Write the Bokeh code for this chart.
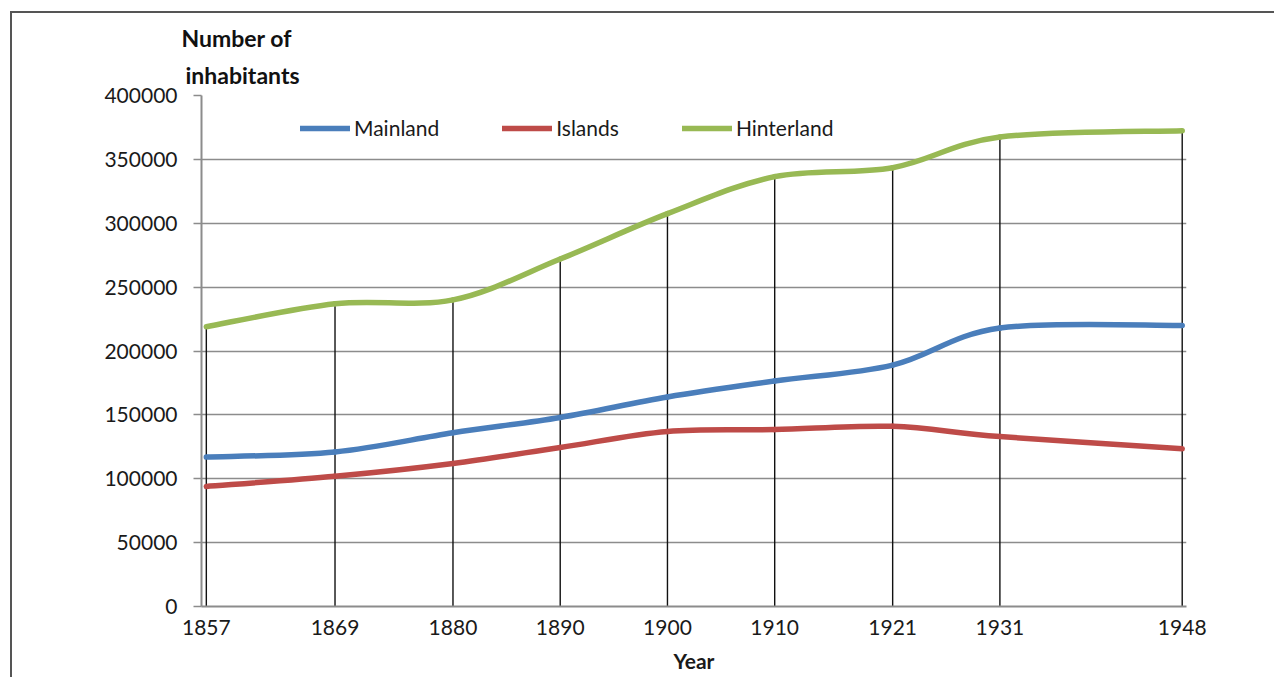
from bokeh.plotting import figure
from bokeh.models import ColumnDataSource, FixedTicker, BasicTickFormatter, Title, Legend
from bokeh.embed import file_html
from bokeh.resources import INLINE

years = [1857, 1869, 1880, 1890, 1900, 1910, 1921, 1931, 1948]
mainland = [117000, 121000, 136000, 148000, 164000, 176500, 189000, 218000, 220000]
islands = [94000, 102000, 112000, 124500, 137000, 138500, 141000, 133000, 123500]
hinterland = [219000, 237000, 240000, 272000, 307500, 336500, 343500, 367500, 372500]
series_names = ["Mainland", "Islands", "Hinterland"]
series_colors = ["#4A7EBB", "#BE4B48", "#98B954"]
y_ticks = [0, 50000, 100000, 150000, 200000, 250000, 300000, 350000, 400000]

FONT = "Lato"
FS = "21px"

p = figure(width=1264, height=666, x_range=(1856.55, 1948.4), y_range=(0, 400000),
           output_backend="svg", toolbar_location=None,
           min_border_left=189, min_border_right=90, min_border_top=82, min_border_bottom=73,
           margin=(11, 0, 0, 10))
p.styles = {"border-left": "2px solid #555555", "border-top": "2px solid #555555"}
p.outline_line_color = None
p.background_fill_color = "white"
p.border_fill_color = "white"

# grid
p.xgrid.grid_line_color = None
p.ygrid.ticker = FixedTicker(ticks=y_ticks)
p.ygrid.grid_line_color = "#8c8c8c"
p.ygrid.grid_line_width = 1.6

# y axis
p.yaxis.ticker = FixedTicker(ticks=y_ticks)
p.yaxis.formatter = BasicTickFormatter(use_scientific=False)
p.yaxis.axis_line_color = "#8c8c8c"
p.yaxis.axis_line_width = 2
p.yaxis.major_tick_line_color = "#8c8c8c"
p.yaxis.major_tick_line_width = 1.6
p.yaxis.major_tick_out = 8
p.yaxis.major_tick_in = 0
p.yaxis.minor_tick_line_color = None
p.yaxis.major_label_standoff = 16
p.yaxis.major_label_text_font = FONT
p.yaxis.major_label_text_font_size = FS
p.yaxis.major_label_text_color = "#1a1a1a"

# x axis
p.xaxis.ticker = FixedTicker(ticks=years)
p.xaxis.axis_line_color = "#8c8c8c"
p.xaxis.axis_line_width = 2
p.xaxis.major_tick_line_color = None
p.xaxis.major_tick_out = 0
p.xaxis.major_tick_in = 0
p.xaxis.minor_tick_line_color = None
p.xaxis.major_label_standoff = 13
p.xaxis.major_label_text_font = FONT
p.xaxis.major_label_text_font_size = FS
p.xaxis.major_label_text_color = "#1a1a1a"
p.xaxis.axis_label = "Year"
p.xaxis.axis_label_text_font = FONT
p.xaxis.axis_label_text_font_style = "bold"
p.xaxis.axis_label_text_font_size = FS
p.xaxis.axis_label_text_color = "#1a1a1a"
p.xaxis.axis_label_standoff = 10

# drop lines from the top series to the axis
p.segment(x0=years, y0=[0] * len(years), x1=years, y1=hinterland,
          line_color="#111111", line_width=1.4)


def smooth_source(xs, ys):
    n = len(xs)
    d = dict(x0=[], y0=[], x1=[], y1=[], cx0=[], cy0=[], cx1=[], cy1=[])
    for i in range(n - 1):
        xp, yp = (xs[i - 1], ys[i - 1]) if i > 0 else (xs[i], ys[i])
        xn, yn = (xs[i + 2], ys[i + 2]) if i + 2 < n else (xs[i + 1], ys[i + 1])
        d["x0"].append(xs[i]); d["y0"].append(ys[i])
        d["x1"].append(xs[i + 1]); d["y1"].append(ys[i + 1])
        d["cx0"].append(xs[i] + (xs[i + 1] - xp) / 6.0)
        d["cy0"].append(ys[i] + (ys[i + 1] - yp) / 6.0)
        d["cx1"].append(xs[i + 1] - (xn - xs[i]) / 6.0)
        d["cy1"].append(ys[i + 1] - (yn - ys[i]) / 6.0)
    return ColumnDataSource(d)


legend_items = []
for name, vals, col in zip(series_names, [mainland, islands, hinterland], series_colors):
    r = p.bezier(x0="x0", y0="y0", x1="x1", y1="y1", cx0="cx0", cy0="cy0", cx1="cx1", cy1="cy1",
                 source=smooth_source(years, vals), line_color=col, line_width=5.5, line_cap="round")
    legend_items.append((name, [r]))

legend = Legend(items=legend_items, orientation="horizontal", location=(99, 466))
legend.border_line_color = None
legend.background_fill_alpha = 0
legend.padding = 0
legend.margin = 0
legend.spacing = 63
legend.glyph_width = 50
legend.glyph_height = 22
legend.label_standoff = 4
legend.label_text_font = FONT
legend.label_text_font_size = FS
legend.label_text_color = "#1a1a1a"
p.add_layout(legend, "center")

t2 = Title(text="inhabitants", align="left", offset=-16, text_font=FONT,
           text_font_size="23px", text_font_style="bold", text_color="#111111", standoff=14)
t1 = Title(text="Number of", align="left", offset=-20, text_font=FONT,
           text_font_size="23px", text_font_style="bold", text_color="#111111", standoff=0)
p.add_layout(t2, "above")
p.add_layout(t1, "above")

open("out.html", "w").write(file_html(p, INLINE))
